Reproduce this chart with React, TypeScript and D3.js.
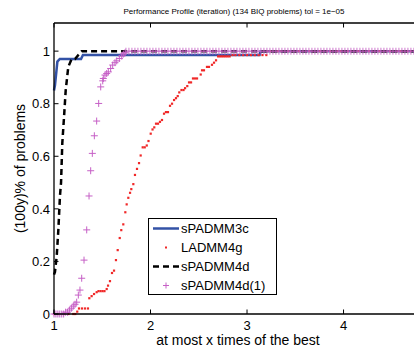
import React, { useEffect, useRef } from 'react';
import * as d3 from 'd3';

// sPADMM3c (solid blue line)
const blueX = [1, 1.01, 1.035, 1.06, 1.28, 1.3, 3.13, 3.14, 4.73];
const blueY = [0.85, 0.87, 0.96, 0.97, 0.97, 0.985, 0.985, 1, 1];

// LADMM4g (red dots)
const redX = [1.0, 1.05, 1.1, 1.15, 1.2, 1.22, 1.241, 1.259, 1.29, 1.321, 1.352, 1.366, 1.39, 1.415, 1.442,
  1.461, 1.482, 1.503, 1.523, 1.546, 1.56, 1.58, 1.601, 1.622, 1.642, 1.66, 1.681, 1.697, 1.718, 1.739,
  1.753, 1.77, 1.788, 1.801, 1.822, 1.839, 1.86, 1.881, 1.898, 1.919, 1.94, 1.961, 1.979, 2.002, 2.021,
  2.039, 2.057, 2.078, 2.098, 2.119, 2.14, 2.16, 2.181, 2.202, 2.223, 2.244, 2.264, 2.282, 2.298, 2.321,
  2.342, 2.358, 2.381, 2.399, 2.42, 2.44, 2.461, 2.482, 2.52, 2.534, 2.554, 2.585, 2.606, 2.637, 2.658,
  2.679, 2.7, 2.72, 2.74, 2.76, 2.78, 2.8, 2.82, 2.85, 2.88, 2.92, 2.96, 3.0, 3.04, 3.08, 3.12, 3.16, 3.2];
const redY = [0, 0, 0, 0, 0, 0, 0.009, 0.021, 0.021, 0.021, 0.021, 0.06, 0.068, 0.076, 0.083,
  0.087, 0.087, 0.087, 0.087, 0.095, 0.108, 0.125, 0.156, 0.165, 0.205, 0.243, 0.289, 0.319, 0.341, 0.387,
  0.417, 0.442, 0.461, 0.475, 0.494, 0.529, 0.552, 0.574, 0.603, 0.634, 0.634, 0.641, 0.658, 0.686, 0.702,
  0.71, 0.724, 0.724, 0.731, 0.738, 0.762, 0.768, 0.768, 0.792, 0.8, 0.814, 0.821, 0.829, 0.843, 0.852,
  0.852, 0.859, 0.867, 0.881, 0.881, 0.896, 0.896, 0.896, 0.911, 0.927, 0.927, 0.94, 0.94, 0.948, 0.956,
  0.965, 0.98, 0.98, 0.98, 0.98, 0.98, 0.98, 0.98, 0.985, 0.985, 0.985, 0.985, 0.985, 0.985, 0.985, 0.985, 0.985, 0.985];
const redTailStart = 3.2;

// sPADMM4d (black dashed)
const blackX = [1, 1.01, 1.028, 1.045, 1.062, 1.073, 1.086, 1.104, 1.121, 1.148, 1.183, 1.218, 1.252, 1.287, 4.73];
const blackY = [0.15, 0.16, 0.22, 0.32, 0.45, 0.5, 0.65, 0.75, 0.85, 0.94, 0.97, 0.97, 0.985, 1, 1];

// sPADMM4d(1) (magenta pluses)
const magX = [1.0, 1.02, 1.04, 1.06, 1.08, 1.1, 1.12, 1.14, 1.16, 1.18, 1.2, 1.218, 1.235, 1.252, 1.269,
  1.287, 1.311, 1.339, 1.363, 1.38, 1.397, 1.418, 1.442, 1.463, 1.484, 1.505, 1.511, 1.528, 1.546, 1.563,
  1.587, 1.608, 1.632, 1.65, 1.677, 1.702, 1.718, 1.736];
const magY = [0, 0, 0, 0, 0, 0, 0.007, 0.007, 0.015, 0.022, 0.03, 0.037, 0.045, 0.072, 0.091,
  0.136, 0.205, 0.32, 0.449, 0.545, 0.611, 0.678, 0.734, 0.801, 0.864, 0.887, 0.896, 0.909, 0.915, 0.921,
  0.934, 0.947, 0.956, 0.963, 0.972, 0.981, 0.989, 0.994];
const magTailStart = 1.74;

const xTicks = [1, 2, 3, 4];
const yTicks = [0, 0.2, 0.4, 0.6, 0.8, 1];
const yTickLabels = ['0', '0.2', '0.4', '0.6', '0.8', '1'];
const legendNames = ['sPADMM3c', 'LADMM4g', 'sPADMM4d', 'sPADMM4d(1)'];

const BLUE = '#3352a6';
const RED = '#f02828';
const MAG = '#c660c6';
const FONT = "'Liberation Sans', Arial, Helvetica, sans-serif";

const App: React.FC = () => {
  const svgRef = useRef<SVGSVGElement>(null);

  useEffect(() => {
    if (!svgRef.current) return;
    const svg = d3.select(svgRef.current);
    svg.selectAll('*').remove();

    const left = 54, right = 414, top = 23, bottom = 314;
    const xMax = 4.73;
    const x = d3.scaleLinear().domain([1, xMax]).range([left, right]);
    const y = d3.scaleLinear().domain([0, 1.107]).range([bottom, top]);

    const plot = svg.append('g');

    // sPADMM3c
    const line = d3.line<number>().x((d, i) => x(blueX[i])).y(d => y(d));
    plot.append('path')
      .datum(blueY)
      .attr('fill', 'none')
      .attr('stroke', BLUE)
      .attr('stroke-width', 2.5)
      .attr('d', line);

    // LADMM4g
    plot.append('line')
      .attr('x1', x(redTailStart)).attr('x2', x(xMax))
      .attr('y1', y(1)).attr('y2', y(1))
      .attr('stroke', RED).attr('stroke-width', 2)
      .attr('stroke-dasharray', '2,1.5');
    plot.selectAll('rect.red')
      .data(redX)
      .enter()
      .append('rect')
      .attr('class', 'red')
      .attr('x', d => x(d) - 1.1)
      .attr('y', (d, i) => y(redY[i]) - 1.1)
      .attr('width', 2.2)
      .attr('height', 2.2)
      .attr('fill', RED);

    // sPADMM4d
    const bline = d3.line<number>().x((d, i) => x(blackX[i])).y(d => y(d));
    plot.append('path')
      .datum(blackY)
      .attr('fill', 'none')
      .attr('stroke', '#000')
      .attr('stroke-width', 2.5)
      .attr('stroke-dasharray', '6,4')
      .attr('d', bline);

    // sPADMM4d(1)
    const plus = (g: any, cx: number, cy: number, r: number) => {
      g.append('path')
        .attr('d', `M${cx - r},${cy}H${cx + r}M${cx},${cy - r}V${cy + r}`)
        .attr('stroke', MAG)
        .attr('stroke-width', 1)
        .attr('fill', 'none');
    };
    plot.append('line')
      .attr('x1', x(magTailStart)).attr('x2', x(xMax))
      .attr('y1', y(1)).attr('y2', y(1))
      .attr('stroke', MAG).attr('stroke-width', 7)
      .attr('stroke-opacity', 0.85)
      .attr('stroke-dasharray', '1,2');
    plot.append('line')
      .attr('x1', x(magTailStart)).attr('x2', x(xMax))
      .attr('y1', y(1)).attr('y2', y(1))
      .attr('stroke', MAG).attr('stroke-width', 1.2);
    magX.forEach((d, i) => plus(plot, x(d), y(magY[i]), 3.5));

    // axes box
    const axis = svg.append('g').attr('stroke', '#000').attr('stroke-width', 1.3);
    axis.append('line').attr('x1', left).attr('x2', right).attr('y1', bottom).attr('y2', bottom);
    axis.append('line').attr('x1', left).attr('x2', right).attr('y1', top).attr('y2', top);
    axis.append('line').attr('x1', left).attr('x2', left).attr('y1', top).attr('y2', bottom);

    xTicks.forEach(t => {
      axis.append('line').attr('x1', x(t)).attr('x2', x(t)).attr('y1', bottom).attr('y2', bottom - 4.5).attr('stroke-width', 1);
      axis.append('line').attr('x1', x(t)).attr('x2', x(t)).attr('y1', top).attr('y2', top + 4.5).attr('stroke-width', 1);
      svg.append('text')
        .attr('x', x(t)).attr('y', 330)
        .attr('text-anchor', 'middle')
        .attr('font-family', FONT).attr('font-size', 13)
        .text(String(t));
    });
    yTicks.forEach((t, i) => {
      axis.append('line').attr('x1', left).attr('x2', left + 4.5).attr('y1', y(t)).attr('y2', y(t)).attr('stroke-width', 1);
      svg.append('text')
        .attr('x', 50).attr('y', y(t) + 4.7)
        .attr('text-anchor', 'end')
        .attr('font-family', FONT).attr('font-size', 13)
        .text(yTickLabels[i]);
    });

    svg.append('text')
      .attr('x', 234).attr('y', 14)
      .attr('text-anchor', 'middle')
      .attr('font-family', FONT).attr('font-size', 8)
      .text('Performance Profile (iteration) (134 BIQ problems) tol = 1e\u221205');

    svg.append('text')
      .attr('x', 238).attr('y', 345)
      .attr('text-anchor', 'middle')
      .attr('font-family', FONT).attr('font-size', 14)
      .text('at most x times of the best');

    svg.append('text')
      .attr('transform', `translate(25,${(top + bottom) / 2}) rotate(-90)`)
      .attr('text-anchor', 'middle')
      .attr('font-family', FONT).attr('font-size', 14)
      .text('(100y)% of problems');

    // legend
    const lg = svg.append('g');
    lg.append('rect')
      .attr('x', 148.5).attr('y', 218.5).attr('width', 128).attr('height', 76)
      .attr('fill', '#fff').attr('stroke', '#000').attr('stroke-width', 1);
    const rows = [228.5, 247.5, 266.5, 285.5];
    lg.append('line').attr('x1', 153).attr('x2', 179).attr('y1', rows[0]).attr('y2', rows[0])
      .attr('stroke', BLUE).attr('stroke-width', 2.5);
    lg.append('rect').attr('x', 165).attr('y', rows[1] - 1).attr('width', 2).attr('height', 2).attr('fill', RED);
    lg.append('line').attr('x1', 153).attr('x2', 179).attr('y1', rows[2]).attr('y2', rows[2])
      .attr('stroke', '#000').attr('stroke-width', 2.5).attr('stroke-dasharray', '6,4');
    plus(lg, 166, rows[3], 3);
    legendNames.forEach((n, i) => {
      lg.append('text')
        .attr('x', 181).attr('y', rows[i] + 4.7)
        .attr('font-family', FONT).attr('font-size', 13)
        .text(n);
    });
  }, []);

  return (
    <svg ref={svgRef} width={414} height={351}
      style={{ position: 'absolute', left: 0, top: 0, background: '#fff' }} />
  );
};

export default App;
